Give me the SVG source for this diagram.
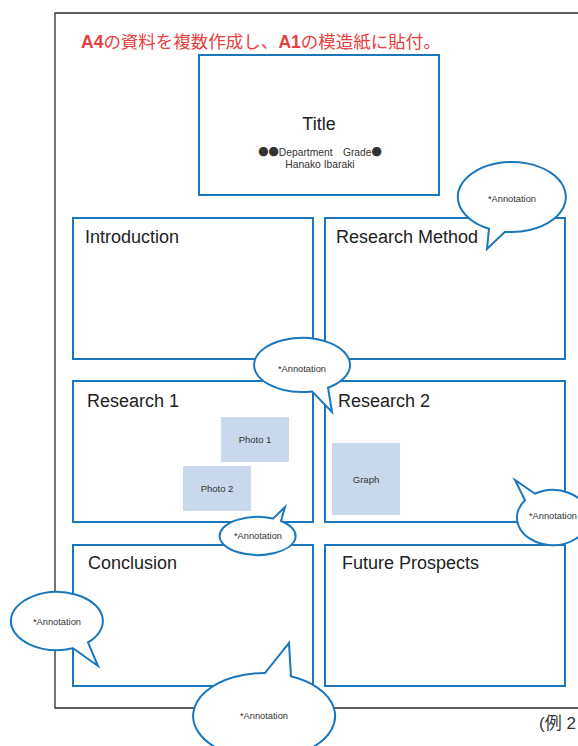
<svg xmlns="http://www.w3.org/2000/svg" width="578" height="746" viewBox="0 0 578 746">
<style>
.frame{fill:none;stroke:#2b2b2b;stroke-width:1.3}
.box{fill:#fff;stroke:#1a77bd;stroke-width:2}
.ph{fill:#c9d9eb}
.lbl{font-family:"Liberation Sans",Arial,sans-serif;font-size:18px;fill:#222}
.sm{font-family:"Liberation Sans",Arial,sans-serif;font-size:9.5px;fill:#333;text-anchor:middle}
.sub{font-family:"Liberation Sans","Noto Sans CJK JP",sans-serif;font-size:10.3px;fill:#333;text-anchor:middle}
.dot{font-family:"Noto Sans CJK JP",sans-serif}
.ann{font-family:"Liberation Sans",Arial,sans-serif;font-size:9.3px;fill:#333;text-anchor:middle}
.co{fill:#fff;stroke:#1a77bd;stroke-width:2;stroke-linejoin:miter}
.red{font-family:"Liberation Sans","Noto Sans CJK JP",sans-serif;font-size:17.5px;fill:#e8403f}
</style>
<rect width="578" height="746" fill="#fff"/>
<path class="frame" d="M600,13 H55 V708 H600"/>
<text class="red" x="81" y="48"><tspan font-weight="bold">A4</tspan>の資料を複数作成し、<tspan font-weight="bold">A1</tspan>の模造紙に貼付。</text>

<g id="title">
<rect class="box" x="199" y="55" width="240" height="140"/>
<text class="lbl" x="319" y="130" text-anchor="middle">Title</text>
<text class="sub" x="320" y="156"><tspan class="dot">●●</tspan>Department　Grade<tspan class="dot">●</tspan></text>
<text class="sub" x="320" y="168">Hanako Ibaraki</text>
</g>
<g id="introduction">
<rect class="box" x="73" y="218" width="240" height="141"/>
<text class="lbl" x="85" y="243">Introduction</text>
</g>
<g id="research-method">
<rect class="box" x="325" y="218" width="240" height="141"/>
<text class="lbl" x="336" y="243">Research Method</text>
</g>
<g id="research1">
<rect class="box" x="73" y="381" width="240" height="141"/>
<text class="lbl" x="87" y="407">Research 1</text>
<rect class="ph" x="221" y="417" width="68" height="45"/>
<text class="sm" x="255" y="443">Photo 1</text>
<rect class="ph" x="183" y="466" width="68" height="45"/>
<text class="sm" x="217" y="492">Photo 2</text>
</g>
<g id="research2">
<rect class="box" x="325" y="381" width="240" height="141"/>
<text class="lbl" x="338" y="407">Research 2</text>
<rect class="ph" x="332" y="443" width="68" height="72"/>
<text class="sm" x="366" y="483">Graph</text>
</g>
<g id="conclusion">
<rect class="box" x="73" y="545" width="240" height="141"/>
<text class="lbl" x="88" y="569">Conclusion</text>
</g>
<g id="future">
<rect class="box" x="325" y="545" width="240" height="141"/>
<text class="lbl" x="342" y="569">Future Prospects</text>
</g>

<g id="connectors">
<g id="ann1">
<path class="co" d="M489,228.7 L487,249 L505,231.7 A54 35 0 1 0 489,228.7 Z"/>
<text class="ann" x="512" y="202">*Annotation</text>
</g>
<g id="ann2">
<path class="co" d="M312,391.4 L332,412 L328,387.7 A48 27 0 1 0 312,391.4 Z"/>
<text class="ann" x="302" y="372">*Annotation</text>
</g>
<g id="ann3">
<path class="co" d="M281,521 L285,507 L273,518.6 A38 19 0 1 0 281,521 Z"/>
<text class="ann" x="258" y="539">*Annotation</text>
</g>
<g id="ann4">
<path class="co" d="M535,493.7 L515,480 L525,500.2 A36 27.5 0 1 0 535,493.7 Z"/>
<text class="ann" x="553" y="519">*Annotation</text>
</g>
<g id="ann5">
<path class="co" d="M73,648.2 L98,666 L88,642.4 A46 29 0 1 0 73,648.2 Z"/>
<text class="ann" x="57" y="625">*Annotation</text>
</g>
<g id="ann6">
<path class="co" d="M291,676.2 L289,643 L265,673 A71 43 0 1 0 291,676.2 Z"/>
<text class="ann" x="264" y="719">*Annotation</text>
</g>
</g>
<text x="539" y="729" font-family="'Liberation Sans','Noto Sans CJK JP',sans-serif" font-size="17" fill="#333">(例 2</text>
</svg>
